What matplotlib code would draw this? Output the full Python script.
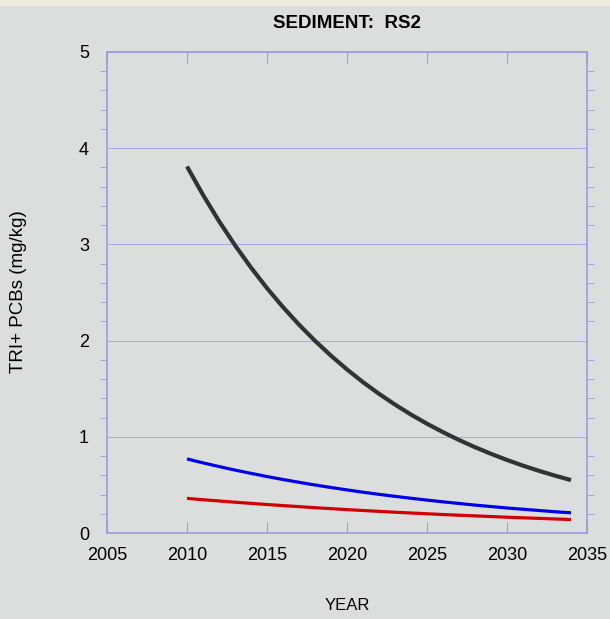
import matplotlib.pyplot as plt
import matplotlib.patches as mpatches
import numpy as np

years = list(range(2010, 2035))
black = [3.810, 3.515, 3.242, 2.991, 2.759, 2.545, 2.348, 2.166, 1.998, 1.843, 1.700,
         1.568, 1.447, 1.335, 1.231, 1.136, 1.048, 0.967, 0.892, 0.823, 0.759, 0.700,
         0.646, 0.596, 0.550]
blue = [0.770, 0.729, 0.691, 0.654, 0.620, 0.587, 0.556, 0.527, 0.499, 0.473, 0.448,
        0.424, 0.402, 0.381, 0.361, 0.342, 0.324, 0.307, 0.290, 0.275, 0.260, 0.247,
        0.234, 0.221, 0.210]
red = [0.360, 0.346, 0.333, 0.320, 0.308, 0.296, 0.285, 0.274, 0.263, 0.253, 0.243,
       0.234, 0.225, 0.216, 0.208, 0.200, 0.192, 0.185, 0.178, 0.171, 0.164, 0.158,
       0.152, 0.146, 0.140]

plt.rcParams["font.family"] = ["Liberation Sans", "DejaVu Sans"]
W, H = 610, 619
fig = plt.figure(figsize=(W / 100, H / 100), dpi=100, facecolor="#dcdedd")
# beige strip along the top edge
fig.patches.append(mpatches.Rectangle((0, (H - 6) / H), 1, 6 / H, transform=fig.transFigure,
                                      facecolor="#ecebe0", edgecolor="none"))
ax = fig.add_axes([107 / W, 1 - 533 / H, 480 / W, 481 / H])
ax.set_facecolor("#dcdedd")

gc = "#9a9ae0"
ax.plot(years, black, color="#333333", lw=3.0, solid_capstyle="butt", zorder=3)
ax.plot(years, blue, color="#0000e6", lw=2.3, solid_capstyle="butt", zorder=3)
ax.plot(years, red, color="#d40000", lw=2.3, solid_capstyle="butt", zorder=3)

ax.set_xlim(2005, 2035)
ax.set_ylim(0, 5)
ax.set_xticks(np.arange(2005, 2036, 5))
ax.set_yticks(np.arange(0, 6, 1))
ax.set_yticks(np.arange(0, 5.01, 0.2), minor=True)
ax.yaxis.grid(True, color="#a8a8e0", lw=0.7)
for s in ax.spines.values():
    s.set_color(gc)
    s.set_linewidth(1.2)
ax.tick_params(axis="x", which="major", direction="in", length=8, color=gc,
               top=True, labelsize=13, pad=10)
ax.tick_params(axis="y", which="major", direction="in", length=0, color=gc,
               labelsize=13, pad=13)
ax.tick_params(axis="y", which="minor", direction="out", length=5, color=gc,
               right=True, left=True)

ax.set_title("SEDIMENT:  RS2", fontsize=13.5, fontweight="bold", pad=17)
fig.text(19 / W, 1 - 292 / H, "TRI+ PCBs (mg/kg)", rotation=90, ha="center",
         va="center", fontsize=13.5)
fig.text(347 / W, 1 - 606 / H, "YEAR", ha="center", va="center", fontsize=12)

fig.savefig("out.png", dpi=100, facecolor=fig.get_facecolor())
